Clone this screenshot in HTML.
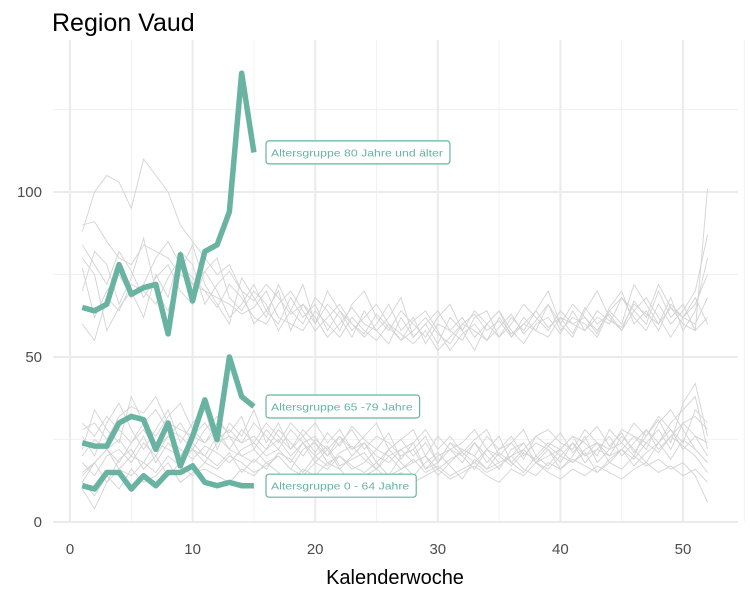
<!DOCTYPE html>
<html><head><meta charset="utf-8">
<style>
body{margin:0;background:#fff;font-family:"Liberation Sans",sans-serif;}
svg{display:block}
</style></head>
<body>
<svg id="chart" width="750" height="600">
<text x="52" y="31" font-size="25" fill="#000">Region Vaud</text>
<g id="grid"></g><g id="bg"></g><g id="hl"></g><g id="labels"></g><g id="axes"></g>
<text x="395" y="584" font-size="20" text-anchor="middle" fill="#000">Kalenderwoche</text>
</svg>
<script>
const weeks=[1,2,3,4,5,6,7,8,9,10,11,12,13,14,15];
const hl80=[65,64,66,78,69,71,72,57,81,67,82,84,94,136,112];
const hl65=[24,23,23,30,32,31,22,30,17,26,37,25,50,38,35];
const hl0=[11,10,15,15,10,14,11,15,15,17,12,11,12,11,11];
const xTicks=[0,10,20,30,40,50];
const yTicks=[0,50,100];
const bgA1=[90,91,85,80,78,84,82,80,75,72,70,68,66,63,65,70,62,60,58,64,60,56,62,58,55,60,57,54,58,52,56,60,58,55,62,57,60,58,56,62,60,58,64,61,59,66,63,60,65,62,66,75];
const bgA2=[77,62,70,75,68,72,80,85,78,74,70,65,72,68,62,60,66,70,64,58,62,66,60,57,63,59,55,61,64,58,52,57,60,55,59,63,57,61,66,58,62,60,56,64,68,62,58,66,60,64,70,87];
const bgA3=[88,100,105,103,95,110,105,100,90,85,80,75,78,70,67,72,68,63,66,60,70,64,58,62,66,60,55,58,62,57,54,60,63,58,61,56,60,64,59,62,57,65,60,63,58,67,62,72,65,60,58,101];
const bgA4=[60,55,68,64,72,70,66,74,80,72,76,70,62,66,72,64,60,68,62,66,58,64,60,56,60,66,58,62,54,60,58,55,62,64,56,60,66,62,58,64,60,62,57,65,70,60,64,58,66,62,60,68];
const bgA5=[80,75,58,65,70,62,75,68,82,78,66,72,76,70,60,64,70,58,66,62,56,60,65,60,58,54,62,56,60,64,58,62,56,60,64,58,54,60,62,57,64,58,62,60,68,64,60,70,62,66,58,62];
const bgA6=[70,82,78,66,74,86,70,64,76,84,72,66,60,74,68,62,72,64,60,68,64,58,66,70,62,58,64,60,56,62,66,58,52,60,64,56,62,58,66,60,56,64,70,62,58,64,68,62,56,62,68,60];
const bgA7=[84,78,72,82,76,68,74,78,70,66,76,80,68,64,70,66,58,64,72,60,66,62,56,64,58,62,68,56,60,54,62,58,64,60,56,62,58,64,70,60,66,62,58,64,60,72,66,60,68,58,64,80];
const bgB1=[28,30,25,32,35,33,38,30,28,26,30,25,28,24,26,22,28,24,20,25,22,26,20,24,18,22,25,20,24,18,22,20,24,18,22,26,20,24,22,18,24,20,22,26,20,24,28,22,26,30,32,28];
const bgB2=[20,25,22,18,24,28,22,26,30,24,20,26,22,28,24,30,26,22,28,24,20,26,22,24,20,18,22,24,16,20,22,18,24,20,16,22,24,18,20,22,26,20,24,18,22,26,24,28,22,30,26,24];
const bgB3=[15,18,22,25,20,18,24,22,20,26,24,28,22,20,18,22,25,20,24,18,22,16,20,24,18,14,20,22,16,18,24,20,16,22,18,20,24,18,22,16,20,26,18,22,24,20,28,24,30,34,38,22];
const bgB4=[30,26,32,28,24,30,34,28,26,22,28,32,26,24,30,26,22,28,24,26,20,24,28,22,26,24,20,22,26,18,24,22,20,26,22,24,28,20,24,22,26,24,20,28,24,30,26,32,28,24,34,30];
const bgB5=[12,18,22,16,20,26,18,24,20,22,18,24,26,20,22,18,20,16,22,24,18,20,16,18,22,20,16,18,20,14,18,22,20,16,18,20,22,18,16,20,24,18,22,20,26,22,18,24,28,22,26,20];
const bgB6=[22,34,28,24,38,30,26,32,36,28,24,30,27,32,22,28,24,30,26,21,27,23,29,25,22,27,19,24,28,22,26,21,25,28,20,24,19,26,23,27,21,25,29,23,27,21,26,31,24,36,42,26];
const bgB7=[26,20,30,36,28,22,28,34,24,30,34,22,30,26,34,24,30,22,26,30,24,28,22,26,30,22,25,28,20,26,22,24,28,22,26,18,22,26,28,24,22,28,24,22,28,26,22,30,34,28,22,18];
const bgC1=[12,8,14,10,16,12,14,18,12,15,16,14,12,16,14,18,15,12,16,14,18,16,12,14,16,13,15,12,14,16,13,15,17,14,12,16,14,18,15,13,16,14,17,15,13,16,18,15,17,14,16,12];
const bgC2=[10,4,12,16,14,18,15,20,17,14,18,16,20,18,15,17,20,16,14,18,16,20,17,15,18,14,16,19,15,17,14,16,18,15,17,20,16,14,18,16,19,17,15,18,16,20,17,19,16,18,14,6];
const bgC3=[18,14,20,22,18,24,20,26,22,19,23,21,18,22,24,20,22,18,24,20,17,21,23,19,16,20,22,18,20,16,19,21,18,22,20,17,21,19,23,20,18,22,24,20,22,19,24,21,26,23,20,15];
const bgC4=[14,18,12,19,22,16,20,14,18,22,20,17,21,15,19,16,21,19,15,20,23,17,19,21,16,22,18,14,18,21,17,13,19,16,21,18,15,20,17,22,18,21,15,19,22,17,21,24,19,25,22,18];
const bgSeries=[bgA1,bgA2,bgA3,bgA4,bgA5,bgA6,bgA7,bgB1,bgB2,bgB3,bgB4,bgB5,bgB6,bgB7,bgC1,bgC2,bgC3,bgC4];
const labelTexts=["Altersgruppe 80 Jahre und älter","Altersgruppe 65 -79 Jahre","Altersgruppe 0 - 64 Jahre"];

const NS="http://www.w3.org/2000/svg";
const X=v=>70+v*12.26, Y=v=>522-v*3.3;
const L=53,R=738,T=40,B=522;
const GREEN="#69b3a2";
function mk(tag,parent,attrs){const e=document.createElementNS(NS,tag);for(const k in attrs)e.setAttribute(k,attrs[k]);parent.appendChild(e);return e;}
const grid=document.getElementById('grid');
for(let v=5;v<=55;v+=10){const l=mk('line',grid,{x1:X(v),x2:X(v),y1:T,y2:B,stroke:'#f2f2f2','stroke-width':1});

}
for(let v=25;v<=125;v+=50){const l=mk('line',grid,{x1:L,x2:R,y1:Y(v),y2:Y(v),stroke:'#f2f2f2','stroke-width':1});

}
const axes=document.getElementById('axes');
xTicks.forEach(v=>{const l=mk('line',grid,{x1:X(v),x2:X(v),y1:T,y2:B,stroke:'#ebebeb','stroke-width':2});


const t=mk('text',axes,{x:X(v),y:554,'font-size':15,fill:'#4d4d4d','text-anchor':'middle'});t.textContent=v;

});
yTicks.forEach(v=>{const l=mk('line',grid,{x1:L,x2:R,y1:Y(v),y2:Y(v),stroke:'#ebebeb','stroke-width':2});


const t=mk('text',axes,{x:42,y:Y(v)+5,'font-size':15,fill:'#4d4d4d','text-anchor':'end'});t.textContent=v;

});
const bg=document.getElementById('bg');
bgSeries.forEach(s=>{const p=mk('polyline',bg,{points:s.map((v,i)=>X(i+1)+','+Y(v)).join(' '),fill:'none',stroke:'#d3d3d3','stroke-width':0.9});

});
const hl=document.getElementById('hl');
const lab=document.getElementById('labels');
[hl80,hl65,hl0].forEach((s,k)=>{
const p=mk('polyline',hl,{points:s.map((v,i)=>X(weeks[i])+','+Y(v)).join(' '),fill:'none',stroke:GREEN,'stroke-width':5.5,'stroke-linejoin':'round'});


const y=Y(s[s.length-1]);
const t=mk('text',lab,{x:271,y:y+4,'font-size':10.5,fill:GREEN});t.textContent=labelTexts[k];


const tw=t.getBBox().width*1.165;
t.setAttribute('textLength',tw);
t.setAttribute('lengthAdjust','spacingAndGlyphs');
const r=mk('rect',lab,{x:266,y:y-11.5,width:tw+12,height:23,rx:3,fill:'#fff',stroke:GREEN,'stroke-width':1.2});


lab.appendChild(t);
});
</script>
</body></html>
